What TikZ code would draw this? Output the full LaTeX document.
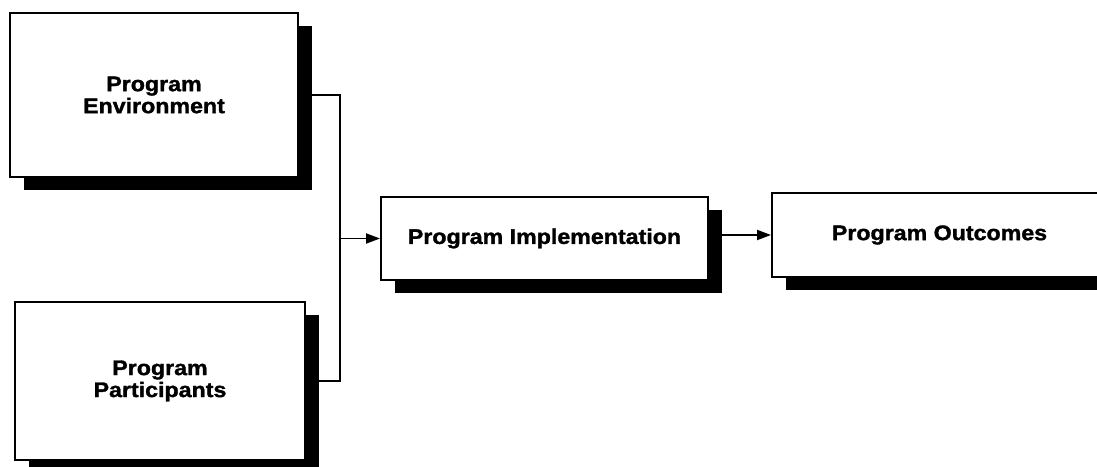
\documentclass[tikz,border=0pt]{standalone}
\usepackage{fontspec}
\newfontfamily\boxfont[FakeStretch=1.1, BoldFeatures={FakeBold=1.5}]{Liberation Sans}
\usetikzlibrary{arrows.meta, shadows}

\begin{document}
\begin{tikzpicture}[
  block/.style={draw, line width=1.1pt, fill=white, align=center, inner sep=0pt,
    font=\boxfont\bfseries\fontsize{12}{12.5}\selectfont,
    drop shadow={shadow xshift=0.28cm, shadow yshift=-0.26cm, fill=black, opacity=1}},
  link/.style={line width=1.1pt},
  arr/.style={link, -{Triangle[length=0.28cm, width=0.2cm]}}
]
\path[use as bounding box, clip] (0,0) rectangle (21.94,9.32);

% Boxes
\node[block, minimum width=5.76cm, minimum height=3.28cm] (env) at (3.08,7.42) {Program\\Environment};
\node[block, minimum width=5.8cm, minimum height=3.16cm] (part) at (3.2,1.70) {Program\\Participants};
\node[block, minimum width=6.54cm, minimum height=1.66cm] (impl) at (10.89,4.55) {Program Implementation};
\node[block, minimum width=6.7cm, minimum height=1.68cm] (out) at (18.79,4.62) {Program Outcomes};

% Connectors
\coordinate (jn) at (6.8,4.5);
\draw[link] (env.east) -| (jn) |- (part.east);
\draw[arr] (jn |- impl.west) -- (impl.west);
\draw[arr] (impl.east |- out.west) -- (out.west);
\end{tikzpicture}
\end{document}
